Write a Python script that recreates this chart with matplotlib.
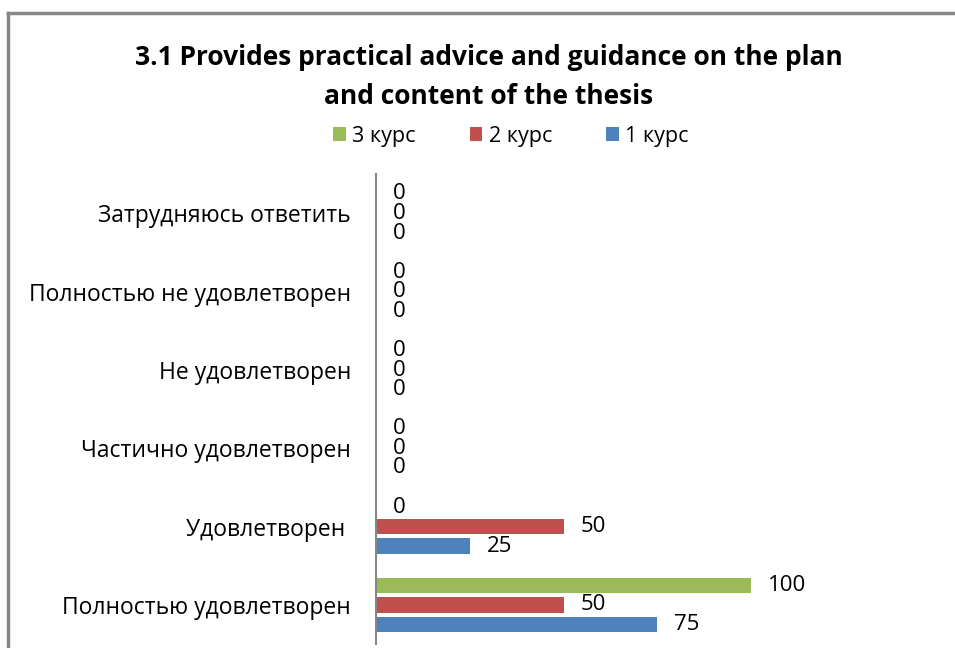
import numpy as np
import matplotlib.pyplot as plt

plt.rcParams['font.family'] = ['Open Sans', 'DejaVu Sans']

categories = ['Полностью удовлетворен', 'Удовлетворен ', 'Частично удовлетворен',
              'Не удовлетворен', 'Полностью не удовлетворен', 'Затрудняюсь ответить']
kurs1 = [75, 25, 0, 0, 0, 0]
kurs2 = [50, 50, 0, 0, 0, 0]
kurs3 = [100, 0, 0, 0, 0, 0]

fig = plt.figure(figsize=(9.55, 6.48), dpi=100)
ax = fig.add_axes([0.3937, 0.006, 0.5, 0.725])

y = np.arange(len(categories))
h = 0.2
series = [(kurs1, '1 курс', '#4F81BD', -0.25),
          (kurs2, '2 курс', '#C0504D', 0.0),
          (kurs3, '3 курс', '#9BBB59', 0.25)]
handles = []
for vals, name, col, off in series:
    b = ax.barh(y + off, vals, height=h, color=col, label=name)
    handles.append(b)
    for yi, v in zip(y + off, vals):
        ax.annotate(str(v), (v, yi), xytext=(12, 0), textcoords='offset points',
                    va='center', ha='left', fontsize=16)

ax.set_xlim(0, 127.3)
ax.set_ylim(-0.5, len(categories) - 0.5)
ax.set_yticks(y)
ax.set_yticklabels(categories, fontsize=16.5)
ax.tick_params(axis='y', length=0, pad=18)
ax.set_xticks([])
for s in ['top', 'right', 'bottom']:
    ax.spines[s].set_visible(False)
ax.spines['left'].set_color('#868686')
ax.spines['left'].set_linewidth(1.5)

fig.text(0.512, 0.881, '3.1 Provides practical advice and guidance on the plan\nand content of the thesis',
         ha='center', va='center', fontsize=19, fontweight='bold', linespacing=1.6)

fig.legend(handles[::-1], ['3 курс', '2 курс', '1 курс'], loc='center',
           bbox_to_anchor=(0.535, 0.79), ncol=3, frameon=False, fontsize=15.5,
           handlelength=0.6, handleheight=0.6, columnspacing=2.5, handletextpad=0.3)

# chart border (top and left visible)
fig.add_artist(plt.Line2D([0.008, 1.0], [0.98, 0.98], color='#878787', lw=2.5))
fig.add_artist(plt.Line2D([0.008, 0.008], [0.0, 0.98], color='#878787', lw=2.5))

fig.savefig('out.png', dpi=100)
